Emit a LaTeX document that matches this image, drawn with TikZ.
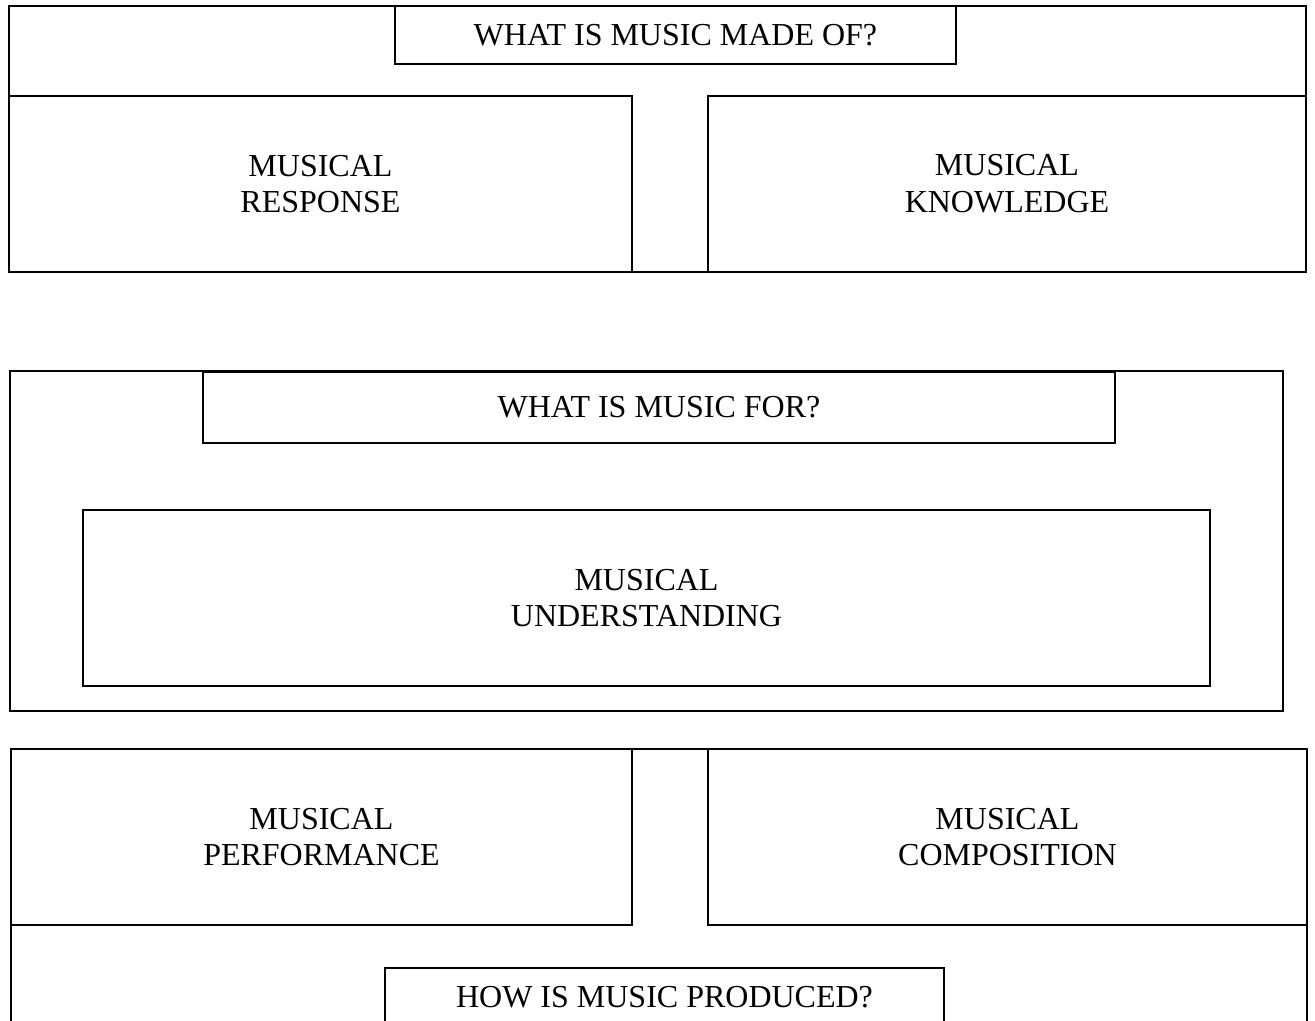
\documentclass[tikz,border=0pt]{standalone}
\usepackage{fontspec}
\setmainfont{Liberation Serif}
\usetikzlibrary{positioning}

\begin{document}
\begin{tikzpicture}[
  every node/.style={font=\fontsize{24}{27.6}\selectfont, align=center},
  frame/.style={rectangle, draw, line width=1.5pt, inner sep=0},
  box/.style={rectangle, draw, line width=1.5pt, fill=white,
    minimum height=132pt},
  qbox/.style={rectangle, draw, line width=1.5pt, fill=white},
]
  % page, the bottom frame runs off it
  \clip (0,0) rectangle (986.25pt,-765.75pt);

  % what is music made of?
  \node[frame, minimum width=972.75pt, minimum height=199.5pt]
    (made) at (493.1pt,-104.25pt) {};
  \node[qbox, minimum width=420.75pt, minimum height=43.5pt]
    (madeq) at (506.6pt,-26.25pt) {WHAT IS MUSIC MADE OF?};
  \node[box, minimum width=467.25pt, anchor=south west]
    (resp) at (made.south west) {MUSICAL\\RESPONSE};
  \node[box, minimum width=448.5pt, anchor=south east]
    (know) at (made.south east) {MUSICAL\\KNOWLEDGE};

  % what is music for?
  \node[frame, minimum width=954.75pt, minimum height=255pt]
    (for) at (484.9pt,-405.75pt) {};
  \node[qbox, minimum width=684pt, minimum height=53.25pt, anchor=north]
    (forq) at (494.25pt,-278.25pt) {WHAT IS MUSIC FOR?};
  \node[box, minimum width=845.25pt]
    (under) at (484.9pt,-448.5pt) {MUSICAL\\UNDERSTANDING};

  % how is music produced?
  \node[frame, minimum width=972pt, minimum height=260pt, anchor=north west]
    (prod) at (7.5pt,-561pt) {};
  \node[box, minimum width=465.75pt, anchor=north west]
    (perf) at (prod.north west) {MUSICAL\\PERFORMANCE};
  \node[box, minimum width=449.25pt, anchor=north east]
    (comp) at (prod.north east) {MUSICAL\\COMPOSITION};
  \node[qbox, minimum width=419.25pt, minimum height=43.5pt, anchor=north]
    (prodq) at (498.4pt,-725.25pt) {HOW IS MUSIC PRODUCED?};

\end{tikzpicture}
\end{document}
